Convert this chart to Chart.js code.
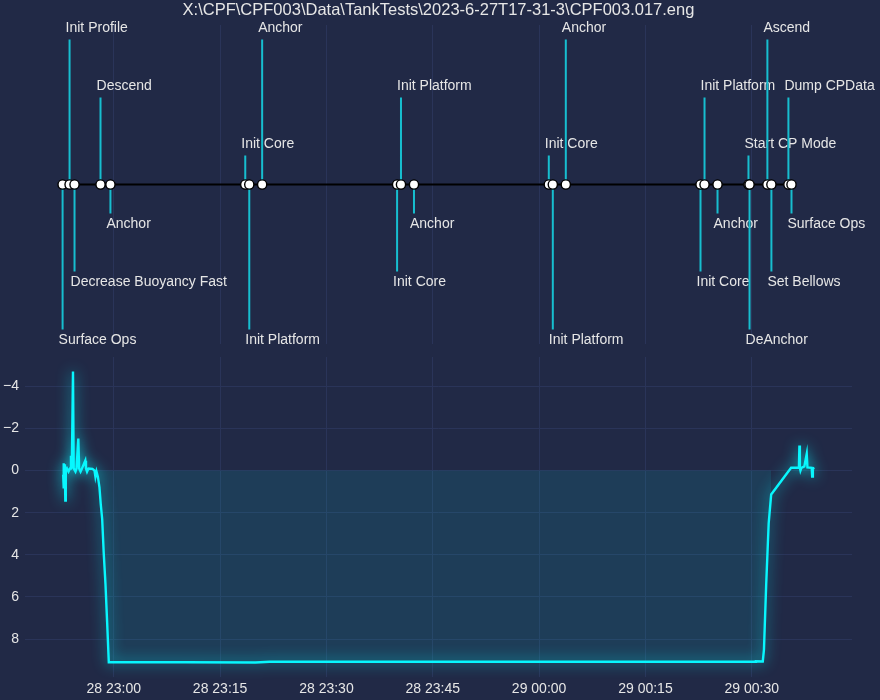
<!DOCTYPE html>
<html>
<head>
<meta charset="utf-8">
<script src="https://cdn.jsdelivr.net/npm/chart.js@4.4.1/dist/chart.umd.min.js"></script>
<style>
  html, body { margin: 0; padding: 0; background: #212946; }
  #wrap { position: relative; width: 880px; height: 700px; background: #212946; overflow: hidden; }
  canvas { position: absolute; left: 0; }
  #top { top: 0; }
  #bottom { top: 350px; }
</style>
</head>
<body>
<div id="wrap">
  <canvas id="top" width="880" height="350" style="width:880px;height:350px"></canvas>
  <canvas id="bottom" width="880" height="350" style="width:880px;height:350px"></canvas>
</div>
<script>
// ---------------- data ----------------
const chartTitle = 'X:\\CPF\\CPF003\\Data\\TankTests\\2023-6-27T17-31-3\\CPF003.017.eng';

const eventNames = [
  'Surface Ops', 'Init Profile', 'Decrease Buoyancy Fast', 'Descend', 'Anchor', 'Init Core',
  'Init Platform', 'Anchor', 'Init Core', 'Init Platform', 'Anchor', 'Init Core',
  'Init Platform', 'Anchor', 'Init Core', 'Init Platform', 'Anchor', 'Start CP Mode',
  'DeAnchor', 'Ascend', 'Set Bellows', 'Dump CPData', 'Surface Ops'
];
const eventTimes = [
  '28 22:52:47', '28 22:53:46', '28 22:54:28', '28 22:58:08', '28 22:59:32', '28 23:18:33',
  '28 23:19:07', '28 23:20:56', '28 23:39:58', '28 23:40:31', '28 23:42:21', '29 00:01:22',
  '29 00:01:56', '29 00:03:46', '29 00:22:46', '29 00:23:20', '29 00:25:10', '29 00:29:32',
  '29 00:29:41', '29 00:32:12', '29 00:32:46', '29 00:35:10', '29 00:35:36'
];
const eventLevels = [
  -5, 5, -3, 3, -1, 1,
  -5, 5, -3, 3, -1, 1,
  -5, 5, -3, 3, -1, 1,
  -5, 5, -3, 3, -1
];

const depthTimes = [
  '28 22:52:52', '28 22:52:55', '28 22:52:58', '28 22:53:02', '28 22:53:07', '28 22:53:10',
  '28 22:53:14', '28 22:53:24', '28 22:53:37', '28 22:53:50', '28 22:53:58', '28 22:54:05',
  '28 22:54:15', '28 22:54:21', '28 22:54:36', '28 22:54:45', '28 22:55:00', '28 22:55:07',
  '28 22:55:19', '28 22:55:31', '28 22:55:59', '28 22:56:05', '28 22:56:14', '28 22:56:26',
  '28 22:57:00', '28 22:57:17', '28 22:57:25', '28 22:57:34', '28 22:57:46', '28 22:57:59',
  '28 22:58:10', '28 22:58:22', '28 22:58:35', '28 22:58:50', '28 22:59:04', '28 22:59:18',
  '28 23:10:00', '28 23:20:00', '28 23:22:00', '29 00:10:00', '29 00:30:30', '29 00:30:35',
  '29 00:31:33', '29 00:31:43', '29 00:32:02', '29 00:32:23', '29 00:32:44', '29 00:35:33',
  '29 00:36:39', '29 00:36:43', '29 00:36:47', '29 00:36:52', '29 00:37:00', '29 00:37:25',
  '29 00:37:45', '29 00:37:51', '29 00:38:27', '29 00:38:31', '29 00:38:37', '29 00:38:50'
];
const depthValues = [
  0.2, -0.35, 0.85, -0.3, 0.2, 1.42,
  0.0, -0.1, 0.05, -0.1, -0.7, -0.1,
  -4.7, -0.1, 0.05, -0.1, -1.52, -0.1,
  0.05, -0.1, -0.47, -0.1, 0.05, -0.1,
  -0.08, 0.0, 0.3, 0.05, 0.3, 0.8,
  1.6, 2.3, 3.9, 5.4, 7.2, 9.1,
  9.1, 9.11, 9.08, 9.08, 9.08, 9.05,
  9.06, 8.5, 5.4, 2.5, 1.14, -0.13,
  -0.13, -1.19, -0.13, 0.0, -0.13, -0.2,
  -0.79, -0.15, -0.13, 0.28, -0.1, -0.13
];

const xTickLabels = ['28 23:00', '28 23:15', '28 23:30', '28 23:45', '29 00:00', '29 00:15', '29 00:30'];
const yTickValues = [-4, -2, 0, 2, 4, 6, 8];

// ---------------- helpers ----------------
// minutes relative to day 28, 23:00
function toMin(s) {
  const [d, hms] = s.split(' ');
  const p = hms.split(':').map(Number);
  return (Number(d) - 28) * 1440 + p[0] * 60 + p[1] + (p[2] || 0) / 60 - 23 * 60;
}
const evX = eventTimes.map(toMin);
const dX = depthTimes.map(toMin);
const xTickValues = xTickLabels.map(toMin);

const allX = evX.concat(dX);
const xLo = Math.min(...allX), xHi = Math.max(...allX);
const xPad = (xHi - xLo) * 0.05;
const X_MIN = xLo - xPad, X_MAX = xHi + xPad;

const yLo = Math.min(...depthValues), yHi = Math.max(...depthValues);
const yPad = (yHi - yLo) * 0.05;
const Y_MIN = yLo - yPad, Y_MAX = yHi + yPad;

const lvMax = Math.max(...eventLevels.map(Math.abs));
const LV_PAD = lvMax * 0.1;

const GRID = '#2A3459';
const TXT = '#E6E6E6';
const FONT = '"Liberation Sans", Arial, "DejaVu Sans", sans-serif';
const CYAN = '#08F7FE';

Chart.defaults.font.family = FONT;
Chart.defaults.color = TXT;

function zeroPad(s) { s.paddingTop = 0; s.paddingBottom = 0; s.paddingLeft = 0; s.paddingRight = 0; }

// ---------------- top timeline ----------------
const baselinePts = evX.map(x => ({ x: x, y: 0 }));
const stemPts = [];
evX.forEach((x, i) => {
  stemPts.push({ x: x, y: 0 });
  stemPts.push({ x: x, y: eventLevels[i] });
  stemPts.push({ x: x, y: null });
});

const labelPlugin = {
  id: 'eventLabels',
  beforeDatasetsDraw(chart) {
    const { ctx, scales } = chart;
    const xs = scales.x, ys = scales.y;
    ctx.save();
    ctx.font = '14px ' + FONT;
    ctx.fillStyle = TXT;
    ctx.textAlign = 'left';
    evX.forEach((x, i) => {
      const lv = eventLevels[i];
      const px = xs.getPixelForValue(x) - 4;
      const py = ys.getPixelForValue(lv) + (lv > 0 ? -4 : 4);
      ctx.textBaseline = lv > 0 ? 'bottom' : 'top';
      ctx.fillText(eventNames[i], px, py);
    });
    ctx.restore();
  }
};

new Chart(document.getElementById('top'), {
  type: 'line',
  data: {
    datasets: [
      {
        data: baselinePts,
        borderColor: '#000000',
        borderWidth: 2,
        pointRadius: 4.6,
        pointBackgroundColor: '#ffffff',
        pointBorderColor: '#000000',
        pointBorderWidth: 1.4,
        tension: 0,
        clip: false
      },
      {
        data: stemPts,
        borderColor: '#17BECF',
        borderWidth: 2,
        pointRadius: 0,
        spanGaps: false,
        tension: 0
      }
    ]
  },
  options: {
    responsive: false,
    animation: false,
    events: [],
    layout: { padding: { left: 25, right: 28, top: 0, bottom: 5 } },
    plugins: {
      legend: { display: false },
      tooltip: { enabled: false },
      title: {
        display: true,
        text: chartTitle,
        color: TXT,
        font: { size: 16.5, weight: 'normal', family: FONT },
        padding: { top: 1, bottom: 4.2 }
      }
    },
    scales: {
      x: {
        type: 'linear',
        min: X_MIN,
        max: X_MAX,
        afterBuildTicks: s => { s.ticks = xTickValues.map(v => ({ value: v })); },
        afterFit: s => { s.height = 0; zeroPad(s); },
        ticks: { display: false },
        grid: { color: GRID, drawTicks: false, lineWidth: 1 },
        border: { display: false }
      },
      y: {
        display: false,
        min: -(lvMax + LV_PAD),
        max: lvMax + LV_PAD
      }
    }
  },
  plugins: [labelPlugin]
});

// ---------------- bottom depth chart ----------------
const depthPts = dX.map((x, i) => ({ x: x, y: depthValues[i] }));
const fillPts = dX.map((x, i) => ({ x: x, y: depthValues[i] > 0 ? depthValues[i] : null }));

const glowPlugin = {
  id: 'glow',
  beforeDatasetDraw(chart, args) {
    if (args.index !== 0) return;
    const ctx = chart.ctx;
    ctx.save();
    ctx.shadowColor = 'rgba(8,247,254,0.85)';
    ctx.shadowBlur = 14;
  },
  afterDatasetDraw(chart, args) {
    if (args.index !== 0) return;
    chart.ctx.restore();
  }
};

new Chart(document.getElementById('bottom'), {
  type: 'line',
  data: {
    datasets: [
      {
        data: depthPts,
        borderColor: CYAN,
        borderWidth: 2.4,
        pointRadius: 0,
        fill: false,
        tension: 0,
        clip: false
      },
      {
        data: fillPts,
        borderWidth: 0,
        borderColor: 'rgba(0,0,0,0)',
        pointRadius: 0,
        spanGaps: false,
        fill: { value: 0 },
        backgroundColor: 'rgba(8,247,254,0.10)',
        tension: 0
      }
    ]
  },
  options: {
    responsive: false,
    animation: false,
    events: [],
    layout: { padding: { left: 0, right: 28, top: 7, bottom: 0 } },
    plugins: {
      legend: { display: false },
      tooltip: { enabled: false },
      title: { display: false }
    },
    scales: {
      x: {
        type: 'linear',
        min: X_MIN,
        max: X_MAX,
        afterBuildTicks: s => { s.ticks = xTickValues.map(v => ({ value: v })); },
        afterFit: s => { s.height = 23; zeroPad(s); },
        ticks: {
          callback: (v, i) => xTickLabels[i],
          color: TXT,
          font: { size: 14, family: FONT },
          padding: 4,
          maxRotation: 0,
          autoSkip: false
        },
        grid: { color: GRID, drawTicks: false, lineWidth: 1 },
        border: { display: false }
      },
      y: {
        type: 'linear',
        reverse: true,
        min: Y_MIN,
        max: Y_MAX,
        afterBuildTicks: s => { s.ticks = yTickValues.map(v => ({ value: v })); },
        afterFit: s => { s.width = 25; zeroPad(s); },
        ticks: {
          callback: v => (v < 0 ? '\u2212' + Math.abs(v) : String(v)),
          color: TXT,
          font: { size: 14, family: FONT },
          padding: 6
        },
        grid: { color: GRID, drawTicks: false, lineWidth: 1 },
        border: { display: false }
      }
    }
  },
  plugins: [glowPlugin]
});
</script>
</body>
</html>
